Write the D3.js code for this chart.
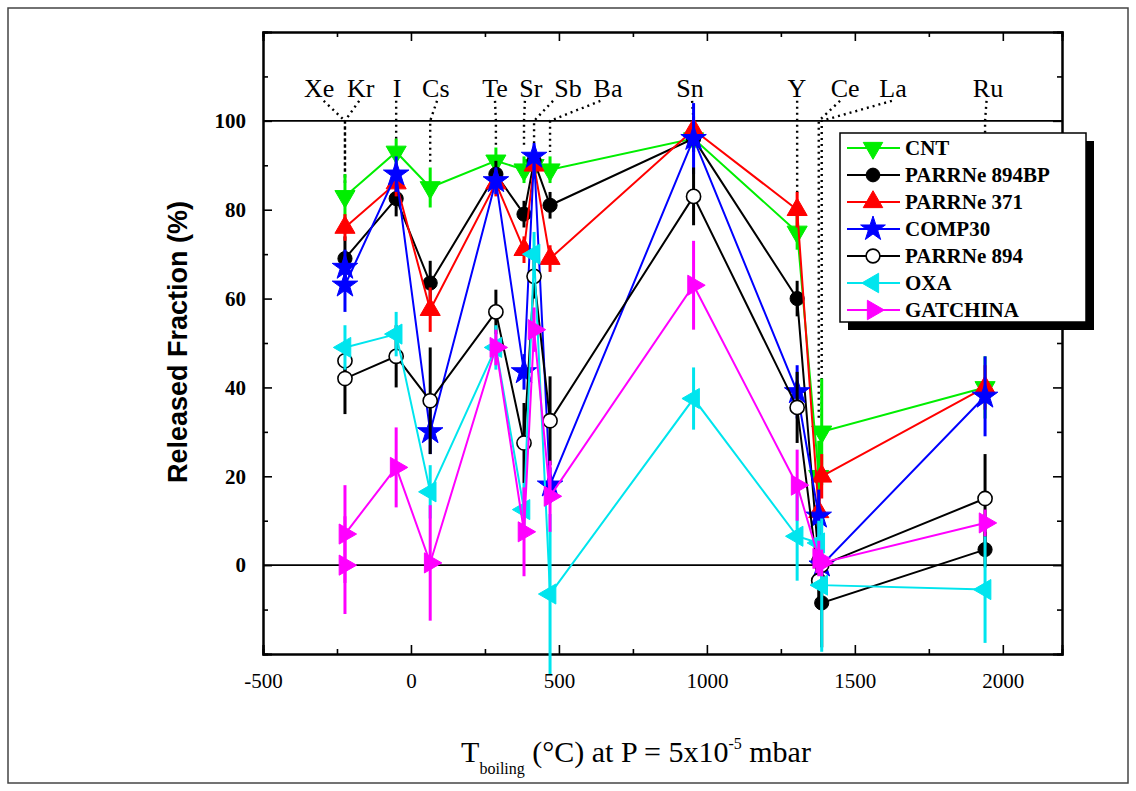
<!DOCTYPE html>
<html>
<head>
<meta charset="utf-8">
<script src="https://cdn.jsdelivr.net/npm/d3@7"></script>
<style>
  body { margin: 0; background: #fff; }
  svg text { fill: #000; }
</style>
</head>
<body>
<svg id="chart" width="1136" height="791"></svg>
<script>
// boiling temperatures (°C at 5e-5 mbar) of the released elements
const elements = ['Xe', 'Kr', 'I', 'Cs', 'Te', 'Sr', 'Sb', 'Ba', 'Sn', 'Y', 'Ce', 'La', 'Ru'];
const tBoiling = [-223, -223, -50, 65, 287, 382, 416, 470, 955, 1305, 1378, 1388, 1940];

// where each element name sits above the frame, and where its dotted leader ends
const labelT = [-310, -170, -47, 84, 284, 405, 531, 666, 943, 1304, 1467, 1629, 1950];
const leaderTopT = [-295, -175, -50, 88, 284, 385, 480, 640, 950, 1305, 1450, 1625, 1945];
const leaderEnd = [86, 86, 96, 90, 94, 94, 95, 93, 100, 83, 33, 33, 96];

// released fraction (%) per target, same order as elements
const cnt = [null, 83, 93, 85, 91, 89, 90, 89, 96, 75, 20, 30, 40];
const cntErr = [0, 5, 3, 4.5, 3, 3, 3, 3, 3, 4, 8, 12, 7];
const p894bp = [null, 69, 82.5, 63.5, 88, 79, 91, 81, 96, 60, 1, -8.5, 3.5];
const p894bpErr = [0, 5, 4, 5, 3, 3, 3, 3, 3, 4, 5, 10, 4];
const p371 = [null, 76, 86, 57.5, 86, 71, 90, 69, 98, 80, 12, 20, 40];
const p371Err = [0, 3, 3, 5, 3, 3, 3, 3, 3, 4, 5, 5, 5];
const comp30 = [67, 63, 88, 30, 86.5, 43.5, 92, 18, 96, 39, 11, 0, 38];
const comp30Err = [4, 6, 4, 5, 3, 4, 3, 4, 8, 6, 6, 5, 9];
const p894 = [46, 42, 47, 37, 57, 27.5, 65, 32.5, 83, 35.5, -3.5, 0, 15];
const p894Err = [4, 8, 7, 12, 5, 9, 5, 10, 6.5, 8, 4, 4, 10];
const oxa = [null, 49, 52, 16.5, 49, 12.5, 70, -6.5, 37.5, 6.5, 5, -4.5, -5.5];
const oxaErr = [0, 5, 5, 6, 5, 6, 5, 18, 7, 10, 5, 15, 12];
const gatchina = [0, 7, 22, 0.5, 49, 7.5, 53, 15.5, 63, 18, 1.5, 0.5, 9.5];
const gatchinaErr = [11, 11, 9, 13, 4, 10, 5, 8, 10, 8, 4, 3, 3];

const seriesNames = ['CNT', 'PARRNe 894BP', 'PARRNe 371', 'COMP30', 'PARRNe 894', 'OXA', 'GATCHINA'];
const seriesColors = ['#00ee00', '#000000', '#ff0000', '#0000ff', '#000000', '#00e5ee', '#ff00ff'];
const seriesMarkers = ['down', 'dot', 'up', 'star', 'ring', 'left', 'right'];
const seriesValues = [cnt, p894bp, p371, comp30, p894, oxa, gatchina];
const seriesErrors = [cntErr, p894bpErr, p371Err, comp30Err, p894Err, oxaErr, gatchinaErr];

const xTicks = [-500, 0, 500, 1000, 1500, 2000];
const yTicks = [0, 20, 40, 60, 80, 100];

const svg = d3.select('#chart');
const plotLeft = 263, plotRight = 1062, plotTop = 32, plotBottom = 654;

const x = d3.scaleLinear().domain([-500, 2200]).range([plotLeft, plotRight]);
const y = d3.scaleLinear().domain([-20, 120]).range([plotBottom, plotTop]);

// outer border of the figure
svg.append('rect')
  .attr('x', 8).attr('y', 8).attr('width', 1120).attr('height', 775)
  .attr('fill', 'none').attr('stroke', '#444').attr('stroke-width', 1.5);

// reference lines at 0 and 100 %
[0, 100].forEach(v => {
  svg.append('line')
    .attr('x1', plotLeft).attr('x2', plotRight)
    .attr('y1', y(v)).attr('y2', y(v))
    .attr('stroke', '#000').attr('stroke-width', 1.8);
});

// dotted leaders from element names to their data
const leaders = svg.append('g')
  .attr('stroke', '#000').attr('stroke-width', 2.4)
  .attr('stroke-dasharray', '2,4').attr('fill', 'none');
elements.forEach((el, i) => {
  leaders.append('path')
    .attr('d', d3.line()([
      [x(leaderTopT[i]), y(104.5)],
      [x(tBoiling[i]), y(100)],
      [x(tBoiling[i]), y(leaderEnd[i])]
    ]));
});

svg.append('g').selectAll('text')
  .data(elements)
  .join('text')
  .attr('x', (d, i) => x(labelT[i]))
  .attr('y', 97)
  .attr('text-anchor', 'middle')
  .style('font-family', '"Liberation Serif", serif')
  .style('font-size', '26px')
  .text(d => d);

// axes, ticks pointing inward
const fmt = d => String(d);
const minorX = d3.range(-250, 2200, 500);
const minorY = [-10, 10, 30, 50, 70, 90, 110];
const xAxis = svg.append('g').attr('transform', `translate(0,${plotBottom})`)
  .call(d3.axisBottom(x).tickValues(xTicks).tickSize(-9).tickPadding(19).tickFormat(fmt));
svg.append('g').attr('transform', `translate(0,${plotBottom})`)
  .call(d3.axisBottom(x).tickValues(minorX).tickSize(-5).tickFormat(''));
svg.append('g').attr('transform', `translate(0,${plotTop})`)
  .call(d3.axisTop(x).tickValues(xTicks).tickSize(-9).tickFormat(''));
svg.append('g').attr('transform', `translate(0,${plotTop})`)
  .call(d3.axisTop(x).tickValues(minorX).tickSize(-5).tickFormat(''));

const yAxis = svg.append('g').attr('transform', `translate(${plotLeft},0)`)
  .call(d3.axisLeft(y).tickValues(yTicks).tickSize(-9).tickPadding(17).tickFormat(fmt));
svg.append('g').attr('transform', `translate(${plotLeft},0)`)
  .call(d3.axisLeft(y).tickValues(minorY).tickSize(-5).tickFormat(''));
svg.append('g').attr('transform', `translate(${plotRight},0)`)
  .call(d3.axisRight(y).tickValues(yTicks).tickSize(-9).tickFormat(''));
svg.append('g').attr('transform', `translate(${plotRight},0)`)
  .call(d3.axisRight(y).tickValues(minorY).tickSize(-5).tickFormat(''));

svg.selectAll('.domain').attr('stroke', '#000').attr('stroke-width', 2);
svg.selectAll('.tick line').attr('stroke', '#000').attr('stroke-width', 1.6);
xAxis.selectAll('text')
  .style('font-family', '"Liberation Serif", serif').style('font-size', '21px');
yAxis.selectAll('text')
  .style('font-family', '"Liberation Serif", serif').style('font-size', '21px')
  .style('font-weight', 'bold');

// marker shapes
function marker(sel, kind, color, s) {
  const sym = kind === 'star' ? d3.symbolStar
    : (kind === 'dot' || kind === 'ring') ? d3.symbolCircle : d3.symbolTriangle;
  const size = kind === 'star' ? 1.15 * s : (kind === 'dot' || kind === 'ring') ? 0.9 * s : s;
  const rot = { up: 0, down: 180, left: -90, right: 90 }[kind] || 0;
  sel.append('path')
    .attr('d', d3.symbol().type(sym).size(size)())
    .attr('transform', `rotate(${rot})`)
    .attr('fill', kind === 'ring' ? '#fff' : color)
    .attr('stroke', kind === 'ring' ? '#000' : color)
    .attr('stroke-width', kind === 'ring' ? 1.6 : 1);
}

const plot = svg.append('g');
seriesValues.forEach((vals, si) => {
  const color = seriesColors[si];
  const pts = vals.map((v, i) => ({ t: tBoiling[i], v: v, e: seriesErrors[si][i] }))
    .filter(d => d.v !== null);
  const g = plot.append('g');

  g.append('path')
    .datum(pts)
    .attr('fill', 'none')
    .attr('stroke', color)
    .attr('stroke-width', 2)
    .attr('d', d3.line().x(d => x(d.t)).y(d => y(d.v)));

  g.selectAll('line.err')
    .data(pts.filter(d => d.e > 0))
    .join('line')
    .attr('class', 'err')
    .attr('x1', d => x(d.t)).attr('x2', d => x(d.t))
    .attr('y1', d => y(d.v - d.e)).attr('y2', d => y(d.v + d.e))
    .attr('stroke', color).attr('stroke-width', 3);

  pts.forEach(d => {
    const m = g.append('g').attr('transform', `translate(${x(d.t)},${y(d.v)})`);
    marker(m, seriesMarkers[si], color, 175);
  });
});

// legend with drop shadow
const lg = svg.append('g').attr('transform', 'translate(840,133)');
lg.append('rect').attr('x', 8).attr('y', 8).attr('width', 246).attr('height', 189).attr('fill', '#000');
lg.append('rect').attr('width', 246).attr('height', 189)
  .attr('fill', '#fff').attr('stroke', '#000').attr('stroke-width', 1.5);
seriesNames.forEach((name, i) => {
  const row = lg.append('g').attr('transform', `translate(0,${15 + i * 27})`);
  row.append('line').attr('x1', 7).attr('x2', 60)
    .attr('stroke', seriesColors[i]).attr('stroke-width', 2);
  const m = row.append('g').attr('transform', 'translate(33,0)');
  marker(m, seriesMarkers[i], seriesColors[i], 165);
  row.append('text').attr('x', 65).attr('y', 7)
    .style('font-family', '"Liberation Serif", serif')
    .style('font-size', '21px').style('font-weight', 'bold')
    .text(name);
});

// axis titles
svg.append('text')
  .attr('transform', 'translate(187,342) rotate(-90)')
  .attr('text-anchor', 'middle')
  .style('font-family', '"Liberation Sans", Arial, sans-serif')
  .style('font-size', '27px').style('font-weight', 'bold')
  .text('Released Fraction (%)');

const xt = svg.append('text')
  .attr('x', 636).attr('y', 762)
  .attr('text-anchor', 'middle')
  .style('font-family', '"Liberation Serif", serif')
  .style('font-size', '30px');
xt.append('tspan').text('T');
xt.append('tspan').attr('dy', 12).style('font-size', '16px').text('boiling');
xt.append('tspan').attr('dy', -12).text(' (°C) at P = 5x10');
xt.append('tspan').attr('dy', -13).style('font-size', '16px').text('-5');
xt.append('tspan').attr('dy', 13).text(' mbar');
</script>
</body>
</html>
